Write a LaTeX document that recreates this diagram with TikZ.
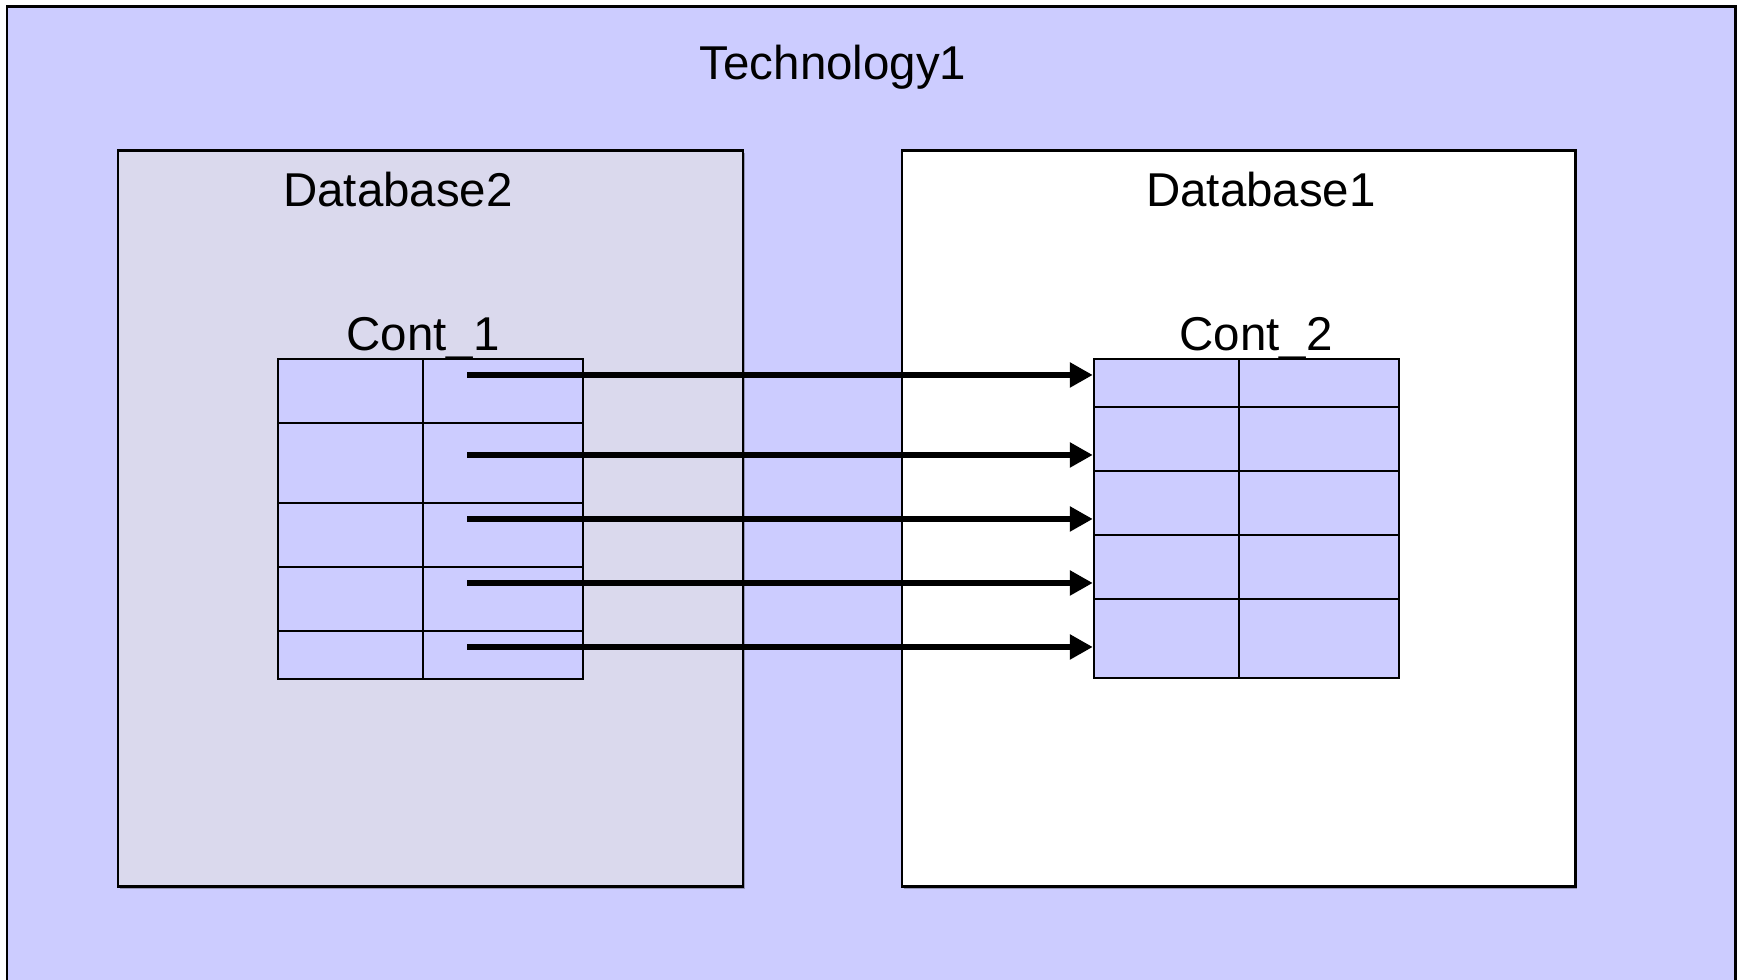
\documentclass[tikz,border=0pt]{standalone}
\usepackage{fontspec}
\setmainfont{Liberation Sans}
\usetikzlibrary{arrows.meta,fit}
\definecolor{techfill}{RGB}{204,204,255}
\definecolor{dbgrey}{RGB}{218,217,237}
\definecolor{shadowgrey}{RGB}{150,150,185}

\begin{document}
\begin{tikzpicture}[x=0.01cm,y=-0.01cm,
  lbl/.style={font=\fontsize{13.5}{16}\selectfont, anchor=base, inner sep=0pt},
  frame/.style={draw=black, line width=0.85pt, inner sep=0pt},
  tab/.style={draw=black, line width=0.7pt, fill=techfill, inner sep=0pt},
  cellline/.style={draw=black, line width=0.7pt},
  link/.style={line width=1.6pt, -{Triangle[length=0.23cm,width=0.24cm]}}
]
\clip (0,0) rectangle (1738,980);

% outer technology frame
\node[frame, fill=techfill, fit={(7,7) (1735,1010)}] (tech) {};
\node[lbl] (techlbl) at (833,80) {Technology1};

% database containers with a thin drop shadow
\fill[shadowgrey] (120,153) rectangle (745,889);
\fill[shadowgrey] (904,153) rectangle (1577,889);
\node[frame, fill=dbgrey, fit={(118,151) (743,887)}] (db2) {};
\node[frame, fill=white, fit={(902,151) (1575,887)}] (db1) {};
\node[lbl] (db2lbl) at (398,207) {Database2};
\node[lbl] (db1lbl) at (1261,207) {Database1};

% table Cont_1
\node[lbl] (c1lbl) at (423,351) {Cont\_1};
\node[tab, fit={(278,359) (583,679)}] (cont1) {};
\draw[cellline] (423,359) -- (423,679);
\foreach \y in {423,503,567,631}
  \draw[cellline] (278,\y) -- (583,\y);

% table Cont_2
\node[lbl] (c2lbl) at (1256,351) {Cont\_2};
\node[tab, fit={(1094,359) (1399,678)}] (cont2) {};
\draw[cellline] (1239,359) -- (1239,678);
\foreach \y in {407,471,535,599}
  \draw[cellline] (1094,\y) -- (1399,\y);

% column mappings
\foreach \i/\y in {1/375,2/455,3/519,4/583,5/647}{
  \coordinate (src\i) at (467,\y);
  \draw[link] (src\i) -- (cont2.west |- src\i);
}
\end{tikzpicture}
\end{document}
